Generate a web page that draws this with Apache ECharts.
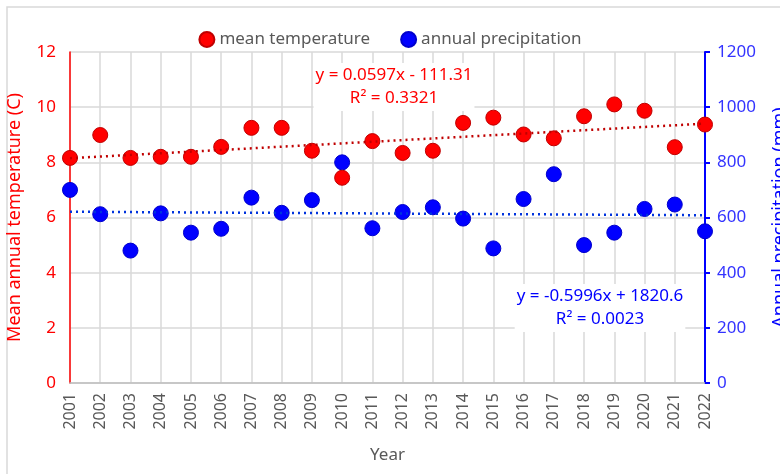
<!DOCTYPE html>
<html>
<head>
<meta charset="utf-8">
<script src="https://cdn.jsdelivr.net/npm/echarts@6/dist/echarts.min.js"></script>
<style>
  html, body { margin: 0; padding: 0; background: #fff; }
  #chart { width: 780px; height: 474px; }
</style>
</head>
<body>
<div id="chart"></div>
<script>
// data
const years = [2001, 2002, 2003, 2004, 2005, 2006, 2007, 2008, 2009, 2010, 2011,
               2012, 2013, 2014, 2015, 2016, 2017, 2018, 2019, 2020, 2021, 2022]
const meanTemp = [8.16, 8.99, 8.16, 8.2, 8.2, 8.56, 9.25, 9.25, 8.42, 7.44, 8.77,
                  8.34, 8.42, 9.43, 9.62, 9.01, 8.87, 9.67, 10.1, 9.87, 8.55, 9.37]
const precip = [700, 612, 480, 615, 545, 559, 672, 617, 663, 800, 561,
                620, 637, 596, 488, 667, 757, 500, 545, 631, 647, 550]
// trendline coefficients shown on the chart
const tempFit = { slope: 0.0597, intercept: -111.31 }
const precipFit = { slope: -0.5996, intercept: 1820.6 }

const font = 'Noto Sans'
const chart = echarts.init(document.getElementById('chart'))

const firstYear = years[0]
const lastYear = years[years.length - 1]
const trend = (fit) => [firstYear, lastYear].map(x => [x, fit.slope * x + fit.intercept])

const option = {
  animation: false,
  backgroundColor: '#fff',
  textStyle: { fontFamily: font },
  grid: { left: 70, right: 75, top: 52, bottom: 91, outerBoundsMode: 'none', containLabel: false },
  legend: {
    data: ['mean temperature', 'annual precipitation'],
    top: 26,
    left: 'center',
    icon: 'circle',
    itemWidth: 15,
    itemHeight: 15,
    itemGap: 30,
    textStyle: { color: '#595959', fontSize: 17, fontFamily: font }
  },
  xAxis: {
    type: 'value',
    min: firstYear,
    max: lastYear,
    interval: 1,
    name: 'Year',
    nameLocation: 'middle',
    nameGap: 64,
    nameTextStyle: { color: '#595959', fontSize: 17 },
    axisLine: { lineStyle: { color: '#bfbfbf', width: 1.5 } },
    axisTick: { show: false },
    axisLabel: { rotate: 90, color: '#595959', fontSize: 16, margin: 10, formatter: v => String(v) },
    splitLine: { show: true, lineStyle: { color: '#d9d9d9', width: 1.5 } }
  },
  yAxis: [
    {
      type: 'value',
      min: 0, max: 12, interval: 2,
      name: 'Mean annual temperature (C)',
      nameLocation: 'middle',
      nameRotate: 90,
      nameGap: 46,
      nameTextStyle: { color: '#ff0000', fontSize: 18 },
      axisLine: { show: true, lineStyle: { color: '#ff0000', width: 1.5 } },
      axisTick: { show: false },
      axisLabel: { color: '#ff0000', fontSize: 17, margin: 14, formatter: v => String(v) },
      splitLine: { show: true, lineStyle: { color: '#d9d9d9', width: 1.5 } }
    },
    {
      type: 'value',
      position: 'right',
      min: 0, max: 1200, interval: 200,
      name: 'Annual precipitation (mm)',
      nameLocation: 'middle',
      nameRotate: 90,
      nameGap: 66,
      nameTextStyle: { color: '#0000ff', fontSize: 18 },
      axisLine: { show: true, lineStyle: { color: '#0000ff', width: 2 } },
      axisTick: { show: true, length: 5, lineStyle: { color: '#0000ff', width: 2 } },
      axisLabel: { color: '#3333ff', fontSize: 17, margin: 12, formatter: v => String(v) },
      splitLine: { show: false }
    }
  ],
  series: [
    {
      name: 'annual precipitation',
      type: 'scatter',
      yAxisIndex: 1,
      symbolSize: 15,
      itemStyle: { color: '#0000ff', borderColor: '#0000cc', borderWidth: 1, opacity: 1 },
      data: years.map((y, i) => [y, precip[i]]),
      z: 3
    },
    {
      name: 'mean temperature',
      type: 'scatter',
      yAxisIndex: 0,
      symbolSize: 15,
      itemStyle: { color: '#ff0000', borderColor: '#c00000', borderWidth: 1, opacity: 1 },
      data: years.map((y, i) => [y, meanTemp[i]]),
      z: 4
    },
    {
      name: 'temp trend',
      type: 'line',
      yAxisIndex: 0,
      symbol: 'none',
      silent: true,
      lineStyle: { color: '#c00000', width: 2.5, type: [2, 4] },
      data: trend(tempFit),
      z: 5
    },
    {
      name: 'precip trend',
      type: 'line',
      yAxisIndex: 1,
      symbol: 'none',
      silent: true,
      lineStyle: { color: '#0033dd', width: 2.5, type: [2, 4] },
      data: trend(precipFit),
      z: 5
    }
  ],
  graphic: [
    {
      type: 'rect',
      shape: { x: 7, y: 7, width: 800, height: 500 },
      style: { fill: 'none', stroke: '#d9d9d9', lineWidth: 1.5 },
      silent: true,
      z: -1
    },
    {
      // trendline label for temperature
      type: 'text', x: 394, y: 63, z: 2,
      style: {
        text: 'y = 0.0597x - 111.31\nR² = 0.3321',
        fill: '#ff0000', font: '17px "Noto Sans"',
        align: 'center', verticalAlign: 'top', lineHeight: 23,
        backgroundColor: '#fff', padding: [1, 2]
      }
    },
    {
      // trendline label for precipitation
      type: 'text', x: 600, y: 284, z: 2,
      style: {
        text: 'y = -0.5996x + 1820.6\nR² = 0.0023',
        fill: '#0000ff', font: '17px "Noto Sans"',
        align: 'center', verticalAlign: 'top', lineHeight: 23,
        backgroundColor: '#fff', padding: [1, 2]
      }
    }
  ]
}

chart.setOption(option)
</script>
</body>
</html>
